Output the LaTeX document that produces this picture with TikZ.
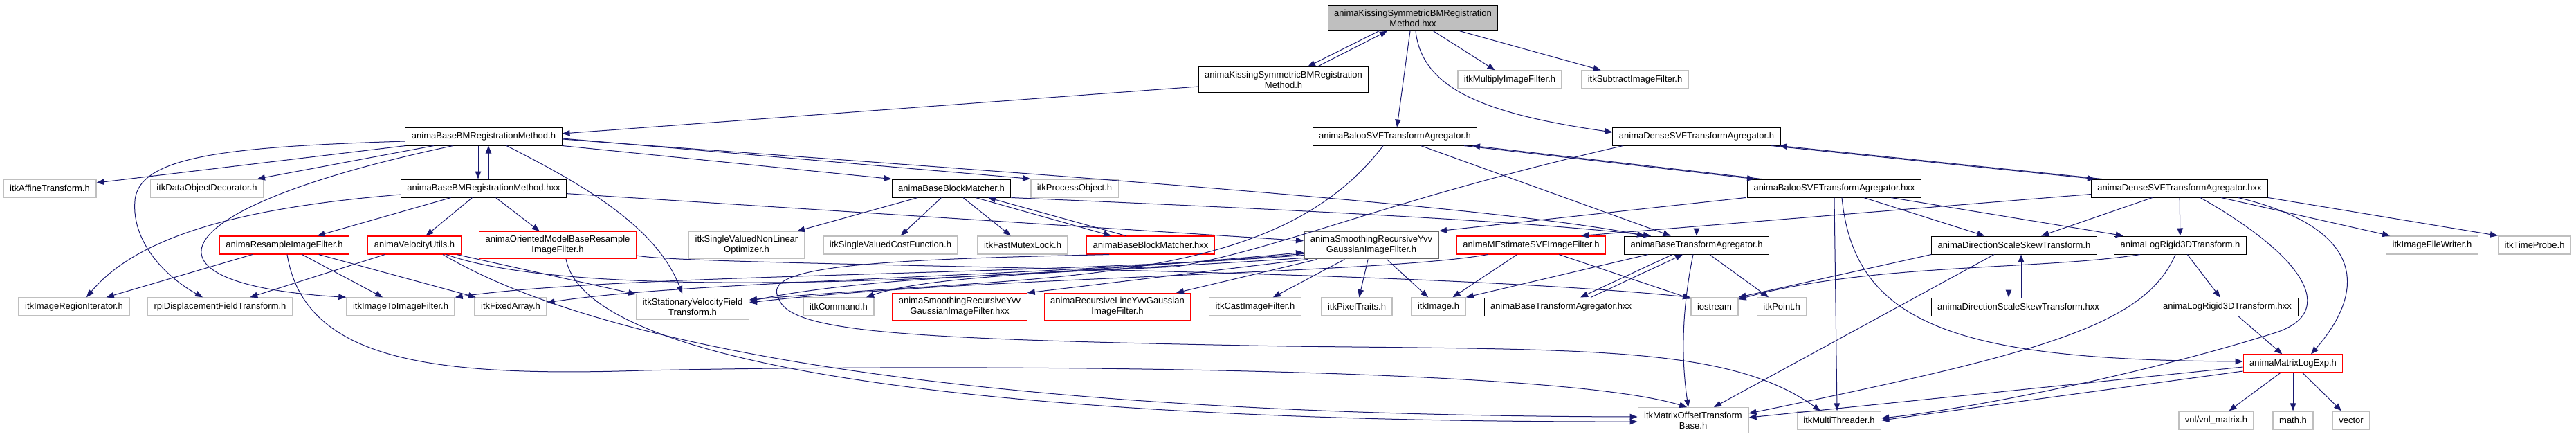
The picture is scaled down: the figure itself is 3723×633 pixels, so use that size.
\documentclass[tikz,border=0pt]{standalone}
\usepackage{fontspec}
\setmainfont{Liberation Sans}
\usetikzlibrary{arrows.meta}
\definecolor{depblue}{RGB}{25,25,112}
\definecolor{grey75}{RGB}{191,191,191}
\definecolor{grey40}{RGB}{102,102,102}
\newcommand{\depfont}{\fontsize{13}{15}\selectfont}

\begin{document}
\begin{tikzpicture}[x=1pt, y=-1pt,
  hbox/.style={draw=black, line width=1pt, fill=white, font=\depfont, align=center, inner xsep=9pt, inner ysep=6pt, minimum height=26pt},
  sysbox/.style={hbox, draw=grey75, line width=1.4pt},
  redbox/.style={hbox, draw=red, line width=1.1pt},
  darkbox/.style={hbox, draw=grey40, line width=1.8pt},
  rootbox/.style={hbox, fill=grey75},
  dep/.style={draw=depblue, line width=1pt, -{Triangle[length=11pt, width=8.5pt]}}
]
  \useasboundingbox (0,0) rectangle (3723,633);

  \node[rootbox] (kisshxx) at (2042,26) {animaKissingSymmetricBMRegistration\\Method.hxx};

  \node[hbox] (kissh) at (1855,115) {animaKissingSymmetricBMRegistration\\Method.h};
  \node[sysbox] (itkmult) at (2182,115) {itkMultiplyImageFilter.h};
  \node[sysbox] (itksub) at (2363,115) {itkSubtractImageFilter.h};

  \node[hbox] (basebmh) at (699,197) {animaBaseBMRegistrationMethod.h};
  \node[hbox] (balooh) at (2016,197) {animaBalooSVFTransformAgregator.h};
  \node[hbox] (denseh) at (2452,197) {animaDenseSVFTransformAgregator.h};

  \node[sysbox] (itkaffine) at (72,272) {itkAffineTransform.h};
  \node[sysbox] (itkdod) at (299,272) {itkDataObjectDecorator.h};
  \node[hbox] (basebmhxx) at (699,272) {animaBaseBMRegistrationMethod.hxx};
  \node[hbox] (blockh) at (1375,272) {animaBaseBlockMatcher.h};
  \node[sysbox] (itkproc) at (1553,272) {itkProcessObject.h};
  \node[hbox] (baloohxx) at (2651,272) {animaBalooSVFTransformAgregator.hxx};
  \node[hbox] (densehxx) at (3150,272) {animaDenseSVFTransformAgregator.hxx};

  \node[redbox] (resample) at (411,354) {animaResampleImageFilter.h};
  \node[redbox] (velutils) at (599,354) {animaVelocityUtils.h};
  \node[redbox] (oriented) at (806,354) {animaOrientedModelBaseResample\\ImageFilter.h};
  \node[sysbox] (itkoptim) at (1079,354) {itkSingleValuedNonLinear\\Optimizer.h};
  \node[sysbox] (itkcost) at (1287,354) {itkSingleValuedCostFunction.h};
  \node[sysbox] (itkmutex) at (1478,354) {itkFastMutexLock.h};
  \node[redbox] (blockhxx) at (1663,354) {animaBaseBlockMatcher.hxx};
  \node[darkbox] (smoothh) at (1982,354) {animaSmoothingRecursiveYvv\\GaussianImageFilter.h};
  \node[redbox] (mestim) at (2213,354) {animaMEstimateSVFImageFilter.h};
  \node[hbox] (btah) at (2452,354) {animaBaseTransformAgregator.h};
  \node[hbox] (dsskewh) at (2911,354) {animaDirectionScaleSkewTransform.h};
  \node[hbox] (logrigidh) at (3151,354) {animaLogRigid3DTransform.h};
  \node[sysbox] (itkwriter) at (3515,354) {itkImageFileWriter.h};
  \node[sysbox] (itktime) at (3663,354) {itkTimeProbe.h};

  \node[sysbox] (itkregion) at (107,443) {itkImageRegionIterator.h};
  \node[sysbox] (rpidisp) at (318,443) {rpiDisplacementFieldTransform.h};
  \node[sysbox] (itkimgfilt) at (579,443) {itkImageToImageFilter.h};
  \node[sysbox] (itkfixed) at (738,443) {itkFixedArray.h};
  \node[sysbox] (itksvf) at (1001,443) {itkStationaryVelocityField\\Transform.h};
  \node[sysbox] (itkcommand) at (1212,443) {itkCommand.h};
  \node[redbox] (smoothhxx) at (1387,443) {animaSmoothingRecursiveYvv\\GaussianImageFilter.hxx};
  \node[redbox] (recline) at (1615,443) {animaRecursiveLineYvvGaussian\\ImageFilter.h};
  \node[sysbox] (itkcast) at (1814,443) {itkCastImageFilter.h};
  \node[sysbox] (itkpixel) at (1961,443) {itkPixelTraits.h};
  \node[sysbox] (itkimage) at (2079,443) {itkImage.h};
  \node[hbox] (btahxx) at (2256,443) {animaBaseTransformAgregator.hxx};
  \node[sysbox] (iostream) at (2478,443) {iostream};
  \node[sysbox] (itkpoint) at (2575,443) {itkPoint.h};
  \node[hbox] (dsskewhxx) at (2917,443) {animaDirectionScaleSkewTransform.hxx};
  \node[hbox] (logrigidhxx) at (3219,443) {animaLogRigid3DTransform.hxx};

  \node[redbox] (matlog) at (3314,525) {animaMatrixLogExp.h};

  \node[sysbox] (itkmatrix) at (2447,607) {itkMatrixOffsetTransform\\Base.h};
  \node[sysbox] (itkthread) at (2658,607) {itkMultiThreader.h};
  \node[sysbox] (vnl) at (3203,607) {vnl/vnl\_matrix.h};
  \node[sysbox] (mathh) at (3314,607) {math.h};
  \node[sysbox] (vector) at (3398,607) {vector};

  \draw[dep] ([xshift=-49pt]kisshxx.south) -- ([xshift=35pt]kissh.north);
  \draw[dep] ([xshift=49pt]kissh.north) -- ([xshift=-37pt]kisshxx.south);
  \draw[dep] (kisshxx) -- (itkmult);
  \draw[dep] (kisshxx) -- (itksub);
  \draw[dep] ([xshift=-4pt]kisshxx.south) -- ([xshift=3pt]balooh.north);
  \draw[dep] ([xshift=4pt]kisshxx.south) .. controls (2055,130) and (2150,165) .. ([yshift=6pt]denseh.west);
  \draw[dep] ([yshift=-10pt]kissh.west) -- ([yshift=4pt]basebmh.east);

  \draw[dep] ([xshift=-8pt]basebmh.south) -- ([xshift=-8pt]basebmhxx.north);
  \draw[dep] ([xshift=7pt]basebmhxx.north) -- ([xshift=7pt]basebmh.south);
  \draw[dep] (basebmh) -- (itkaffine);
  \draw[dep] (basebmh) -- (itkdod);
  \draw[dep] ([yshift=-7pt]basebmh.west) .. controls (330,212) and (200,225) .. (195,290) .. controls (190,350) and (240,400) .. ([xshift=-25pt]rpidisp.north);
  \draw[dep] ([xshift=-44pt]basebmh.south) .. controls (230,300) and (180,410) .. (itkimgfilt.north west);
  \draw[dep] ([xshift=33pt]basebmh.south) .. controls (850,270) and (950,330) .. ([xshift=-15pt]itksvf.north);
  \draw[dep] (basebmh.south east) -- (blockh.north west);
  \draw[dep] ([yshift=-3pt]basebmh.east) -- (itkproc.north west);
  \draw[dep] ([yshift=-4pt]basebmh.east) .. controls (1400,245) and (2150,295) .. ([xshift=-75pt]btah.north);

  \draw[dep] (basebmhxx) -- (resample);
  \draw[dep] (basebmhxx) -- (velutils);
  \draw[dep] (basebmhxx) -- (oriented);
  \draw[dep] ([yshift=-9pt]basebmhxx.west) .. controls (350,300) and (200,340) .. ([xshift=18pt]itkregion.north);
  \draw[dep] (basebmhxx) -- (smoothh);

  \draw[dep] ([xshift=35pt]blockh.south) -- ([xshift=-57pt]blockhxx.north);
  \draw[dep] ([xshift=-36pt]blockhxx.north) -- ([xshift=53pt]blockh.south);
  \draw[dep] (blockh) -- (itkoptim);
  \draw[dep] (blockh) -- (itkcost);
  \draw[dep] (blockh) -- (itkmutex);
  \draw[dep] (blockh.south east) .. controls (1800,300) and (2200,318) .. ([xshift=-66pt]btah.north);
  \draw[dep] ([xshift=-60pt]blockhxx.south) .. controls (1250,375) and (1100,385) .. (1125,430) .. controls (1140,480) and (1300,490) .. (1860,500) .. controls (2300,505) and (2500,500) .. ([xshift=-27pt]itkthread.north);

  \draw[dep] (resample) -- (itkregion);
  \draw[dep] (resample) -- (itkimgfilt);
  \draw[dep] (resample) -- (itkfixed);
  \draw[dep] ([xshift=4pt]resample.south) .. controls (440,520) and (620,545) .. (930,535) .. controls (1400,525) and (2250,530) .. ([xshift=-9pt]itkmatrix.north);

  \draw[dep] (velutils) -- (rpidisp);
  \draw[dep] (velutils) -- (itksvf);
  \draw[dep] ([xshift=41pt]velutils.south) .. controls (900,520) and (1500,600) .. ([yshift=5pt]itkmatrix.west);
  \draw[dep] ([xshift=46pt]velutils.south) .. controls (850,440) and (1500,400) .. ([yshift=10pt]smoothh.south west);

  \draw[dep] ([xshift=12pt]oriented.south) .. controls (850,540) and (1500,610) .. ([yshift=-2pt]itkmatrix.west);
  \draw[dep] ([yshift=-15pt]oriented.east) .. controls (1000,385) and (2000,385) .. ([xshift=-35pt]iostream.north);

  \draw[dep] ([xshift=100pt]balooh.south) -- ([xshift=-115pt]baloohxx.north);
  \draw[dep] ([xshift=-105pt]baloohxx.north) -- ([xshift=112pt]balooh.south);
  \draw[dep] (balooh) -- (btah);
  \draw[dep] ([xshift=-17pt]balooh.south) .. controls (1840,420) and (1500,395) .. ([yshift=10pt]itksvf.east);

  \draw[dep] ([xshift=-14pt]denseh.south east) -- ([xshift=6pt]densehxx.north west);
  \draw[dep] ([xshift=16pt]densehxx.north west) -- ([xshift=-2pt]denseh.south east);
  \draw[dep] (denseh) -- (btah);
  \draw[dep] ([xshift=-106pt]denseh.south) .. controls (2000,290) and (1850,360) .. (1700,385) .. controls (1500,395) and (1250,400) .. ([yshift=8pt]itksvf.east);

  \draw[dep] ([xshift=-2pt]baloohxx.south west) -- (smoothh.north east);
  \draw[dep] (baloohxx) -- (dsskewh);
  \draw[dep] (baloohxx) -- (logrigidh);
  \draw[dep] (baloohxx.south) -- ([xshift=-3pt]itkthread.north);
  \draw[dep] ([xshift=11pt]baloohxx.south) .. controls (2680,470) and (2830,520) .. ([yshift=3pt]matlog.west);

  \draw[dep] ([yshift=5pt]densehxx.south west) -- ([xshift=-36pt]mestim.north east);
  \draw[dep] (densehxx) -- (dsskewh);
  \draw[dep] (densehxx) -- (logrigidh);
  \draw[dep] (densehxx) -- (itkwriter);
  \draw[dep] (densehxx.south east) -- (itktime.north west);
  \draw[dep] ([xshift=85pt]densehxx.south) .. controls (3420,330) and (3420,420) .. ([xshift=26pt]matlog.north);
  \draw[dep] ([xshift=30pt]densehxx.south) .. controls (3330,370) and (3380,450) .. (3290,480) .. controls (3100,540) and (2850,590) .. ([yshift=3pt]itkthread.east);

  \draw[dep] ([xshift=6pt]smoothh.south west) -- (smoothhxx.north east);
  \draw[dep] ([xshift=20pt]smoothh.south west) -- ([xshift=85pt]recline.north);
  \draw[dep] (smoothh) -- (itkcast);
  \draw[dep] (smoothh) -- (itkpixel);
  \draw[dep] (smoothh) -- (itkimage);
  \draw[dep] ([yshift=6pt]smoothh.south west) .. controls (1500,398) and (900,395) .. (itkimgfilt.north east);
  \draw[dep] ([yshift=8pt]smoothh.south west) .. controls (1500,400) and (1000,405) .. ([yshift=6pt]itkfixed.east);
  \draw[dep] ([yshift=2pt]smoothh.south west) .. controls (1600,392) and (1350,395) .. ([xshift=40pt]itkcommand.north);

  \draw[dep] ([xshift=-63pt]mestim.south) .. controls (2000,395) and (1400,400) .. ([yshift=6pt]itksvf.east);
  \draw[dep] (mestim) -- (itkimage);
  \draw[dep] (mestim) -- (iostream);

  \draw[dep] ([xshift=-35pt]btah.south) -- ([xshift=28pt]btahxx.north);
  \draw[dep] ([xshift=43pt]btahxx.north) -- ([xshift=-20pt]btah.south);
  \draw[dep] ([xshift=-70pt]btah.south) -- (itkimage.north east);
  \draw[dep] ([xshift=-5pt]btah.south) .. controls (2430,450) and (2430,520) .. ([xshift=-7pt]itkmatrix.north);
  \draw[dep] (btah) -- (itkpoint);

  \draw[dep] ([xshift=-8pt]dsskewh.south) -- ([xshift=-14pt]dsskewhxx.north);
  \draw[dep] ([xshift=4pt]dsskewhxx.north) -- ([xshift=10pt]dsskewh.south);
  \draw[dep] (dsskewh.south west) -- (iostream.north east);
  \draw[dep] ([xshift=-29pt]dsskewh.south) -- ([xshift=30pt]itkmatrix.north);

  \draw[dep] (logrigidh) -- (logrigidhxx);
  \draw[dep] ([xshift=-58pt]logrigidh.south) .. controls (2950,390) and (2700,380) .. ([yshift=-3pt]iostream.north east);
  \draw[dep] ([xshift=-7pt]logrigidh.south) .. controls (3100,470) and (2950,510) .. ([yshift=10pt]itkmatrix.east);
  \draw[dep] (logrigidhxx) -- (matlog);

  \draw[dep] (matlog) -- (vnl);
  \draw[dep] (matlog) -- (mathh);
  \draw[dep] (matlog) -- (vector);
  \draw[dep] ([yshift=-5pt]matlog.west) -- ([yshift=4pt]itkmatrix.east);
  \draw[dep] ([yshift=-11pt]matlog.west) -- (itkthread.east);
\end{tikzpicture}
\end{document}
